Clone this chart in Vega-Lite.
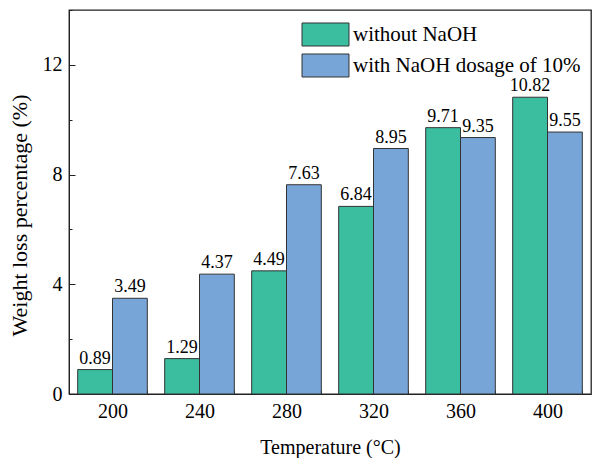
{
  "$schema": "https://vega.github.io/schema/vega-lite/v6.json",
  "width": 522,
  "height": 384,
  "autosize": "none",
  "padding": {"left": 69, "top": 10, "right": 2, "bottom": 64},
  "background": "white",
  "config": {
    "font": "Liberation Serif",
    "view": {"stroke": "#222", "strokeWidth": 1.3},
    "axis": {"grid": false, "domainColor": "#222", "tickColor": "#222", "labelColor": "black", "titleColor": "black", "labelFont": "Liberation Serif", "titleFont": "Liberation Serif", "titleFontWeight": "normal"}
  },
  "data": {
    "values": [
      {"temp": "200", "series": "without NaOH", "value": 0.89},
      {"temp": "200", "series": "with NaOH dosage of 10%", "value": 3.49},
      {"temp": "240", "series": "without NaOH", "value": 1.29},
      {"temp": "240", "series": "with NaOH dosage of 10%", "value": 4.37},
      {"temp": "280", "series": "without NaOH", "value": 4.49},
      {"temp": "280", "series": "with NaOH dosage of 10%", "value": 7.63},
      {"temp": "320", "series": "without NaOH", "value": 6.84},
      {"temp": "320", "series": "with NaOH dosage of 10%", "value": 8.95},
      {"temp": "360", "series": "without NaOH", "value": 9.71},
      {"temp": "360", "series": "with NaOH dosage of 10%", "value": 9.35},
      {"temp": "400", "series": "without NaOH", "value": 10.82},
      {"temp": "400", "series": "with NaOH dosage of 10%", "value": 9.55}
    ]
  },
  "encoding": {
    "x": {
      "field": "temp", "type": "ordinal",
      "scale": {"paddingInner": 0.2, "paddingOuter": 0.1},
      "axis": {"title": "Temperature (°C)", "labelAngle": 0, "labelFontSize": 20, "titleFontSize": 20, "tickBand": "extent", "tickSize": -4, "labelPadding": 11, "titlePadding": 16}
    },
    "xOffset": {"field": "series", "type": "nominal", "sort": ["without NaOH", "with NaOH dosage of 10%"]},
    "y": {
      "field": "value", "type": "quantitative",
      "scale": {"domain": [0, 14], "nice": false},
      "axis": {
        "title": "Weight loss percentage (%)",
        "values": [0, 2, 4, 6, 8, 10, 12, 14],
        "labelExpr": "datum.value % 4 == 0 && datum.value < 14 ? datum.label : ''",
        "tickSize": {"condition": {"test": "datum.value % 4 == 0", "value": -6}, "value": -3},
        "labelPadding": 13,
        "labelFontSize": 20,
        "titleFontSize": 22,
        "titlePadding": 11,
        "titleY": 205
      }
    }
  },
  "layer": [
    {
      "mark": {"type": "bar", "stroke": "#333", "strokeWidth": 1},
      "encoding": {
        "color": {
          "field": "series", "type": "nominal",
          "sort": ["without NaOH", "with NaOH dosage of 10%"],
          "scale": {"domain": ["without NaOH", "with NaOH dosage of 10%"], "range": ["#3BBEA0", "#78A5D7"]},
          "legend": {
            "title": null,
            "orient": "none",
            "legendX": 244,
            "legendY": 12,
            "padding": 0,
            "symbolType": "M-2,-0.98H2V0.98H-2Z",
            "symbolSize": 552,
            "symbolStrokeColor": "#333",
            "symbolStrokeWidth": 1,
            "labelFontSize": 21,
            "labelFont": "Liberation Serif",
            "labelColor": "black",
            "labelOffset": 15,
            "rowPadding": 2,
            "labelLimit": 400
          }
        }
      }
    },
    {
      "mark": {"type": "text", "baseline": "bottom", "dy": -2, "fontSize": 18, "font": "Liberation Serif", "color": "black"},
      "encoding": {
        "text": {"field": "value", "type": "quantitative", "format": ".2f"}
      }
    }
  ]
}
